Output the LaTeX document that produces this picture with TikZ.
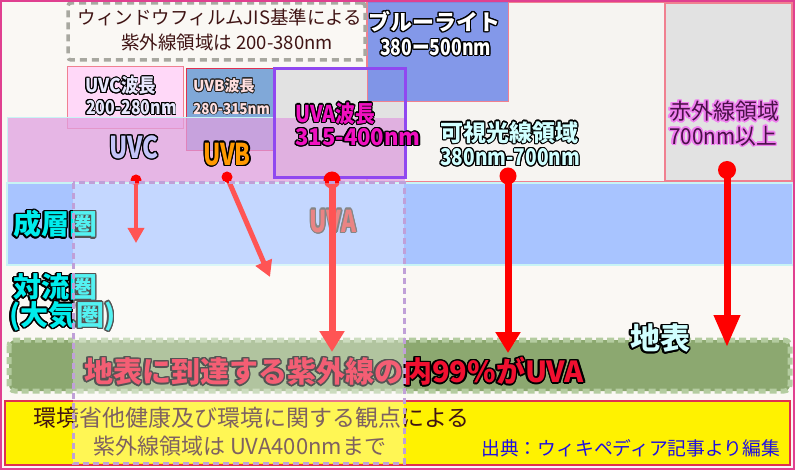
\documentclass[tikz,border=0pt]{standalone}
\usepackage{fontspec}
\setmainfont{Noto Sans CJK JP}
\usepackage{contour}
\contourlength{1.2pt}
\usetikzlibrary{arrows.meta}
\definecolor{bgc}{HTML}{FAF8F4}
\definecolor{framec}{HTML}{E04090}
\definecolor{pinkline}{HTML}{F08090}
\definecolor{grayfill}{HTML}{E2E2E2}
\definecolor{dashgray}{HTML}{A8A8A0}
\definecolor{uvcfill}{HTML}{FFD8F8}
\definecolor{uvbfill}{HTML}{80A8D8}
\definecolor{uvaline}{HTML}{9048F0}
\definecolor{bluefill}{HTML}{7088E8}
\definecolor{bandpink}{HTML}{E0A0E0}
\definecolor{stratc}{HTML}{A8C4FF}
\definecolor{cyanline}{HTML}{C8F4F4}
\definecolor{groundc}{HTML}{8CA870}
\definecolor{grounddash}{HTML}{B4CCA0}
\definecolor{yellowline}{HTML}{E03050}
\definecolor{overdash}{HTML}{C0A0D8}
\definecolor{darktext}{HTML}{401414}
\definecolor{srcblue}{HTML}{2010E0}
\definecolor{vislabel}{HTML}{D0FFFF}
\definecolor{irtext}{HTML}{4A1048}
\definecolor{irglow}{HTML}{F080F0}
\definecolor{uvctext}{HTML}{C4C4F8}
\definecolor{uvbtext}{HTML}{FF9900}
\definecolor{uvatext}{HTML}{F010C0}
\definecolor{uvabig}{HTML}{E04848}
\definecolor{layertext}{HTML}{00ECEC}
\definecolor{groundtext}{HTML}{F01030}
\newcommand{\fsz}[1]{\fontsize{#1}{#1}\selectfont}
% outlined text: [outline width]{outline colour}{text}
\newcommand{\olc}[3][1.2pt]{{\contourlength{#1}\contour{#2}{#3}}}
\newcommand{\hs}[2]{\scalebox{#1}[1]{#2}}
\begin{document}
\begin{tikzpicture}[x=1pt,y=-1pt,
  lbl/.style={inner sep=0pt, anchor=west},
  lblc/.style={inner sep=0pt, anchor=center},
  beam/.style={draw=red, line width=#1},
  dotc/.style={fill=red}]
\useasboundingbox (0,0) rectangle (795,470);
% background
\fill[bgc] (0,0) rectangle (795,470);
% visible region box
\filldraw[fill=bgc!97!gray, draw=pinkline, line width=1.5pt] (367,2) rectangle (665,182);
% infrared box
\filldraw[fill=grayfill, draw=pinkline, line width=1.2pt] (665,3) rectangle (792,181);
% top dashed box
\node[draw=dashgray, line width=3.5pt, dash pattern=on 7pt off 5pt, rounded corners=3pt,
  minimum width=297pt, minimum height=57pt, inner sep=0pt] (jisbox) at (216.5,31.5) {};
\node[lblc, align=center, text=darktext, font=\fsz{18.5}] (jistext) at (220,30)
  {ウィンドウフィルムJIS基準による\\[6pt]\hspace*{14pt}紫外線領域は 200-380nm};
% UVC box
\filldraw[fill=uvcfill, draw=pinkline, line width=1pt] (67,67) rectangle (183,129);
% UVB box
\filldraw[fill=uvbfill, draw=yellowline, line width=1pt] (186,69) rectangle (276,151);
% UVA box fill
\fill[grayfill] (274,69) rectangle (405,178);
% blue light box
\filldraw[fill=bluefill, fill opacity=0.85, draw=pinkline, line width=1pt] (367,0) rectangle (508,102);
% pink band
\fill[bandpink, opacity=0.75] (7,118) rectangle (405,183);
\draw[cyanline, line width=1pt] (7,183) -- (7,118) -- (274,118);
% UVA box border
\draw[uvaline, line width=3pt] (274,69) rectangle (405,178);
% stratosphere band
\filldraw[fill=stratc, draw=cyanline, line width=1.5pt] (7,183) rectangle (793,265);
% ground band
\filldraw[fill=groundc, draw=grounddash, line width=5pt, dash pattern=on 7pt off 4pt,
  rounded corners=6pt] (9,340) rectangle (790,391);
% yellow box
\filldraw[fill=yellow, draw=yellowline, line width=1.5pt] (5,401) rectangle (790,465);

% labels of the spectrum
\node[lbl, text=white, font=\fsz{22}\bfseries] (bl1) at (368,22) {\olc{black}{ブルーライト}};
\node[lbl, text=white, font=\fsz{22}\bfseries] (bl2) at (380,48) {\hs{0.8}{\olc{black}{380ー500nm}}};
\node[lbl, text=vislabel, font=\fsz{23}\bfseries] (vis1) at (440,133) {\olc{black}{可視光線領域}};
\node[lbl, text=vislabel, font=\fsz{23}\bfseries] (vis2) at (440,158) {\hs{0.83}{\olc{black}{380nm-700nm}}};
\node[lbl, text=irtext, font=\fsz{22}] (ir1) at (669,112) {\olc[1.5pt]{irglow}{赤外線領域}};
\node[lbl, text=irtext, font=\fsz{22}] (ir2) at (669,137) {\hs{0.94}{\olc[1.5pt]{irglow}{700nm以上}}};
\node[lbl, text=uvctext!40!white, font=\fsz{19}\bfseries] (uvc1) at (85,86) {\hs{0.92}{\olc[1pt]{black}{UVC波長}}};
\node[lbl, text=uvctext!40!white, font=\fsz{19}\bfseries] (uvc2) at (86,108) {\hs{0.84}{\olc[1pt]{black}{200-280nm}}};
\node[lbl, text=pink!50!white, font=\fsz{15}\bfseries] (uvb1) at (193,86) {\olc[0.8pt]{black!85}{UVB波長}};
\node[lbl, text=pink!50!white, font=\fsz{15}\bfseries] (uvb2) at (193,109) {\hs{0.9}{\olc[0.8pt]{black!85}{280-315nm}}};
\node[lbl, text=uvatext, font=\fsz{23}\bfseries] (uva1) at (295,114) {\hs{0.86}{\olc{black}{UVA波長}}};
\node[lbl, text=uvatext, font=\fsz{23}\bfseries] (uva2) at (295,138) {\hs{0.96}{\olc{black}{315-400nm}}};
\node[lblc, text=uvctext, font=\fsz{30}\bfseries] (uvcbig) at (134,148) {\hs{0.8}{\olc[1.4pt]{black}{UVC}}};
\node[lblc, text=uvbtext, font=\fsz{30}\bfseries] (uvbbig) at (227,155) {\hs{0.76}{\olc[1.4pt]{black}{UVB}}};
\node[lblc, text=uvabig, font=\fsz{30}\bfseries] (uvabig) at (333,222) {\hs{0.76}{\olc[1.4pt]{black!70}{UVA}}};
% layers
\node[lbl, text=layertext, font=\fsz{28}\bfseries] (strat) at (13,225) {\olc[1.5pt]{black}{成層圏}};
\node[lbl, text=layertext, font=\fsz{28}\bfseries] (tropo1) at (13,288) {\olc[1.5pt]{black}{対流圏}};
\node[lbl, text=layertext, font=\fsz{28}\bfseries] (tropo2) at (9,317) {\olc[1.5pt]{black}{(大気圏)}};
\node[lblc, text=vislabel, font=\fsz{30}\bfseries] (ground) at (660,339) {\olc[1.6pt]{black}{地表}};

% dots and rays
\coordinate (uvcs) at (136,180);
\coordinate (uvce) at (136,243);
\coordinate (uvbs) at (227,177);
\coordinate (uvbe) at (270,277);
\coordinate (uvas) at (332,180);
\coordinate (uvae) at (332,352);
\coordinate (viss) at (508,176);
\coordinate (vise) at (508,353);
\coordinate (irs) at (727,170);
\coordinate (ire) at (727,347);
\draw[beam=3.5pt, -{Triangle[length=15pt,width=16pt]}] (uvcs) -- (uvce);
\draw[beam=5pt, -{Triangle[length=16pt,width=17pt]}] (uvbs) -- (uvbe);
\draw[beam=7pt, -{Triangle[length=21pt,width=24pt]}] (uvas) -- (uvae);
\draw[beam=7pt, -{Triangle[length=21pt,width=24pt]}] (viss) -- (vise);
\draw[beam=7pt, -{Triangle[length=32pt,width=25pt]}] (irs) -- (ire);
\fill[dotc] (uvcs) circle (5.5pt);
\fill[dotc] (uvbs) circle (5.5pt);
\fill[dotc] (uvas) circle (8.5pt);
\fill[dotc] (viss) circle (8.5pt);
\fill[dotc] (irs) circle (9pt);

% ground statement
\node[lbl, text=groundtext, font=\fsz{29}\bfseries] (reach) at (84,372) {\olc[1.5pt]{black}{地表に到達する紫外線の内99\%がUVA}};
% yellow box texts
\node[lbl, text=darktext, font=\fsz{23}] (env1) at (33,418) {環境省他健康及び環境に関する観点による};
\node[lbl, text=darktext, font=\fsz{22}] (env2) at (93,446) {紫外線領域は UVA400nmまで};
\node[lbl, text=srcblue, font=\fsz{18.8}] (src) at (481,448) {出典：ウィキペディア記事より編集};

% translucent overlay box
\filldraw[fill=white, fill opacity=0.33, draw=overdash, line width=3pt, dash pattern=on 6pt off 4pt]
  (73,183) rectangle (404,463);
% outer frame
\draw[framec, line width=2pt] (1,1) rectangle (794,469);
\end{tikzpicture}
\end{document}
